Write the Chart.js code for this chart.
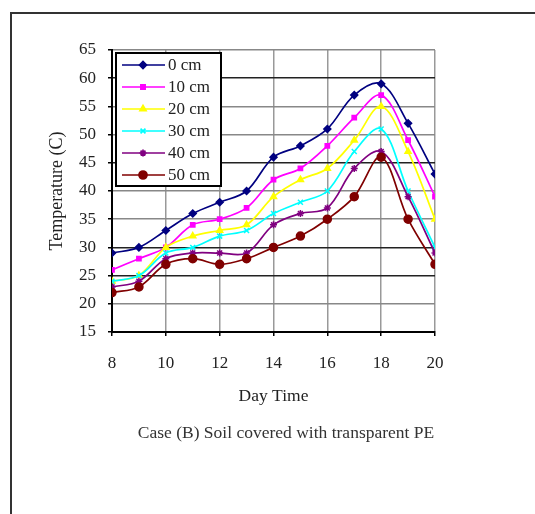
<!DOCTYPE html>
<html>
<head>
<meta charset="utf-8">
<script src="https://cdn.jsdelivr.net/npm/chart.js"></script>
<style>
  body { margin: 0; background: #fff; overflow: hidden; }
  #contenedor { position: relative; width: 535px; height: 514px; }
  #marco { position: absolute; left: 10px; top: 12px; width: 700px; height: 700px; border: 2px solid #333; }
  #grafica { position: absolute; left: 0; top: 0; }
  #leyenda { position: absolute; left: 86px; top: 422px; width: 400px; text-align: center;
             font: 17.5px "Liberation Serif", "Times New Roman", serif; line-height: 20px; color: #333; }
</style>
</head>
<body>
<div id="contenedor">
  <div id="marco"></div>
  <canvas id="grafica" width="535" height="514"></canvas>
  <div id="leyenda">Case (B) Soil covered with transparent PE</div>
</div>

<script>
// hora del dia
var horas = [8, 9, 10, 11, 12, 13, 14, 15, 16, 17, 18, 19, 20];

// temperatura por profundidad
var t0cm  = [29, 30, 33, 36, 38, 40, 46, 48, 51, 57, 59, 52, 43];
var t10cm = [26, 28, 30, 34, 35, 37, 42, 44, 48, 53, 57, 49, 39];
var t20cm = [24, 25, 30, 32, 33, 34, 39, 42, 44, 49, 55, 47, 35];
var t30cm = [24, 25, 29, 30, 32, 33, 36, 38, 40, 47, 51, 40, 30];
var t40cm = [23, 24, 28, 29, 29, 29, 34, 36, 37, 44, 47, 39, 29];
var t50cm = [22, 23, 27, 28, 27, 28, 30, 32, 35, 39, 46, 35, 27];

var series = ["0 cm", "10 cm", "20 cm", "30 cm", "40 cm", "50 cm"];
var valores = [t0cm, t10cm, t20cm, t30cm, t40cm, t50cm];
var colores = ["#000080", "#ff00ff", "#ffff00", "#00ffff", "#800080", "#800000"];
var marcas = ["rectRot", "rect", "triangle", "crossRot", "star", "circle"];
var radios = [3.5, 3, 3.5, 3.5, 3.5, 4];

var fuente = "'Liberation Serif', 'Times New Roman', serif";

function puntos(arr) {
  var res = [];
  for (var i = 0; i < horas.length; i++) {
    res.push({x: horas[i], y: arr[i]});
  }
  return res;
}

var datasets = [];
for (var i = 0; i < series.length; i++) {
  datasets.push({
    label: series[i],
    data: puntos(valores[i]),
    borderColor: colores[i],
    backgroundColor: colores[i],
    pointStyle: marcas[i],
    pointRadius: radios[i],
    pointBorderWidth: 1.5,
    borderWidth: 1.7,
    tension: 0.35,
    order: series.length - i
  });
}

// leyenda con recuadro dentro del area de la grafica
var cajaLeyenda = {
  id: 'cajaLeyenda',
  afterDraw: function (chart) {
    var ctx = chart.ctx;
    var x0 = 116, y0 = 53, w = 105, h = 133;
    ctx.save();
    ctx.fillStyle = '#fff';
    ctx.fillRect(x0, y0, w, h);
    ctx.strokeStyle = '#000';
    ctx.lineWidth = 2;
    ctx.strokeRect(x0, y0, w, h);
    ctx.font = '17px ' + fuente;
    ctx.textBaseline = 'middle';
    for (var i = 0; i < series.length; i++) {
      var y = 65 + i * 22;
      ctx.strokeStyle = colores[i];
      ctx.fillStyle = colores[i];
      ctx.lineWidth = 1.7;
      ctx.beginPath();
      ctx.moveTo(122, y);
      ctx.lineTo(165, y);
      ctx.stroke();
      Chart.helpers.drawPoint(ctx, {pointStyle: marcas[i], radius: radios[i], borderWidth: 1.5, rotation: 0}, 143, y);
      ctx.fillStyle = '#222';
      ctx.fillText(series[i], 168, y + 1);
    }
    ctx.restore();
  }
};

var ctx = document.getElementById("grafica").getContext("2d");
var miGrafica = new Chart(ctx, {
  type: 'line',
  data: {datasets: datasets},
  options: {
    responsive: false,
    animation: false,
    layout: {padding: {left: 38, top: 50, right: 100, bottom: 102}},
    plugins: {
      legend: {display: false},
      tooltip: {enabled: false}
    },
    scales: {
      x: {
        type: 'linear',
        min: 8,
        max: 20,
        afterFit: function (scale) { scale.height = 80; },
        ticks: {stepSize: 2, padding: 17, color: '#222', font: {family: fuente, size: 17}},
        grid: {color: '#999', lineWidth: 1.5, tickLength: 4, tickColor: '#000'},
        border: {color: '#000', width: 2},
        title: {display: true, text: 'Day Time', color: '#222', padding: {top: 0, bottom: 5},
                font: {family: fuente, size: 17.5}}
      },
      y: {
        min: 15,
        max: 65,
        afterFit: function (scale) { scale.width = 74; },
        ticks: {stepSize: 5, padding: 12, color: '#222', font: {family: fuente, size: 17}},
        grid: {
          lineWidth: 1.5,
          tickLength: 4,
          tickColor: '#000',
          color: function (c) {
            var v = c.tick ? c.tick.value : 0;
            if (v == 60 || v == 45 || v == 30 || v == 25) return '#222';
            return '#888';
          }
        },
        border: {color: '#000', width: 2},
        title: {display: true, text: 'Temperature (C)', color: '#222', padding: {top: 8, bottom: 0},
                font: {family: fuente, size: 18}}
      }
    }
  },
  plugins: [cajaLeyenda]
});
</script>
</body>
</html>
